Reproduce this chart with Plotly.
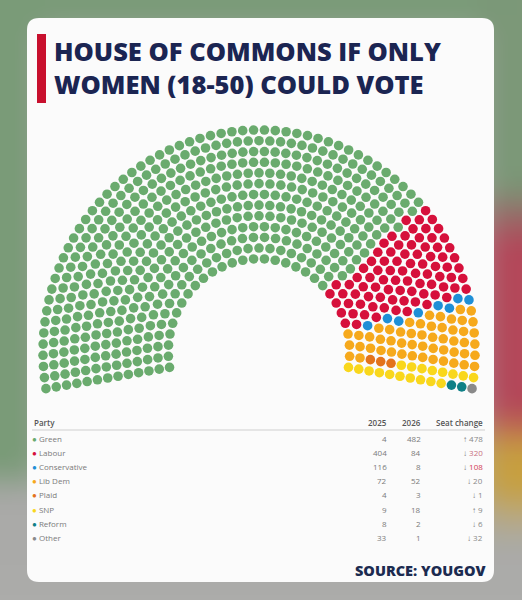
import base64, struct, zlib
import numpy as np
import plotly.graph_objects as go

# ---------------- data ----------------
parties = ["Green", "Labour", "Conservative", "Lib Dem", "Plaid", "SNP", "Reform", "Other"]
seats_2025 = [4, 404, 116, 72, 4, 9, 8, 33]
seats_2026 = [482, 84, 8, 52, 3, 18, 2, 1]
party_colors = ["#6aab6e", "#d6103b", "#1f8fd6", "#f6a91c", "#e3731c", "#f9d71c", "#0f8087", "#8a8a8a"]
change_colors = ["#888888", "#c8707f", "#d23c55", "#888888", "#888888", "#888888", "#888888", "#888888"]
title_lines = ["HOUSE OF COMMONS IF ONLY", "WOMEN (18-50) COULD VOTE"]
col_headers = ["Party", "2025", "2026", "Seat change"]
source_text = "SOURCE: YOUGOV"

W, H = 522, 600

# ---------------- background (blurred photo edges) ----------------
def png_uri(arr):
    h, w, _ = arr.shape
    raw = b"".join(b"\x00" + arr[i].tobytes() for i in range(h))
    def chunk(t, d):
        c = struct.pack(">I", len(d)) + t + d
        return c + struct.pack(">I", zlib.crc32(t + d) & 0xFFFFFFFF)
    png = b"\x89PNG\r\n\x1a\n" + chunk(b"IHDR", struct.pack(">IIBBBBB", w, h, 8, 2, 0, 0, 0))
    png += chunk(b"IDAT", zlib.compress(raw)) + chunk(b"IEND", b"")
    return "data:image/png;base64," + base64.b64encode(png).decode()

gh, gw = 60, 52  # 10px cells
bg = np.zeros((gh, gw, 3), float)
bg[:] = (170, 170, 168)
green = (122, 155, 120)
bg[:48, :4] = green
bg[:3, :] = green
bg[:20, 48:] = (124, 152, 120)
bg[20:23, 48:] = (150, 110, 105)
bg[23:42, 48:] = (180, 72, 90)
bg[42:44, 48:] = (192, 120, 80)
bg[44:50, 48:] = (200, 160, 64)
bg[50:53, 48:] = (185, 170, 130)
bg[56:, :] = (172, 172, 170)
for _ in range(3):
    p = np.pad(bg, ((1, 1), (1, 1), (0, 0)), mode="edge")
    bg = sum(p[i:i + gh, j:j + gw] for i in range(3) for j in range(3)) / 9
bg_uri = png_uri(np.clip(bg, 0, 255).astype(np.uint8))

# ---------------- hemicycle geometry ----------------
sx, sy = 216.0, 222.0     # px per unit radius (horizontal / vertical)
cx_px, cy_px = 259.0, 352.0
n_rows = 13
r_inner = 0.42
theta_start, theta_end = np.deg2rad(189.5), np.deg2rad(-9.5)

total = sum(seats_2026)
radii = np.linspace(r_inner, 1.0, n_rows)
raw = total * radii / radii.sum()
per_row = np.floor(raw).astype(int)
rem = total - per_row.sum()
for k in np.argsort(-(raw - per_row))[:rem]:
    per_row[k] += 1

seat_list = []
for r, n in zip(radii, per_row):
    for t in np.linspace(theta_start, theta_end, n):
        seat_list.append((round(float(t), 9), float(r)))
seat_list.sort(key=lambda s: (-s[0], s[1]))

fig = go.Figure()
idx = 0
for name, cnt, col in zip(parties, seats_2026, party_colors):
    pts = seat_list[idx:idx + cnt]
    idx += cnt
    xs = [r * np.cos(t) for t, r in pts]
    ys = [r * np.sin(t) for t, r in pts]
    fig.add_trace(go.Scatter(x=xs, y=ys, mode="markers", name=name,
                             marker=dict(size=9.6, color=col, line=dict(width=0)),
                             hoverinfo="name", showlegend=False))

def px(x):
    return x / W

def py(y):
    return 1 - y / H

# ---------------- card ----------------
x0, x1, y0, y1, rad = 27, 494, 18, 582, 12
rx, ry = rad / W, rad / H
X0, X1, Y0, Y1 = px(x0), px(x1), py(y0), py(y1)
card_path = (f"M {X0+rx},{Y0} L {X1-rx},{Y0} Q {X1},{Y0} {X1},{Y0-ry} "
             f"L {X1},{Y1+ry} Q {X1},{Y1} {X1-rx},{Y1} L {X0+rx},{Y1} "
             f"Q {X0},{Y1} {X0},{Y1+ry} L {X0},{Y0-ry} Q {X0},{Y0} {X0+rx},{Y0} Z")
shapes = [
    dict(type="path", xref="paper", yref="paper", path=card_path,
         fillcolor="#fbfbfb", line=dict(width=0), layer="below"),
    dict(type="rect", xref="paper", yref="paper", x0=px(37), x1=px(46), y0=py(34), y1=py(103),
         fillcolor="#c8102e", line=dict(width=0)),
    dict(type="line", xref="paper", yref="paper", x0=px(32), x1=px(485), y0=py(430), y1=py(430),
         line=dict(color="#cfcfcf", width=1.2)),
]

annotations = []
title_font = dict(family="Open Sans", size=25.5, color="#1b2552", weight=800)
annotations.append(dict(text="<br>".join(title_lines), x=px(52), y=py(68), xref="paper", yref="paper",
                        xanchor="left", yanchor="middle", align="left", showarrow=False, font=title_font))

hdr_font = dict(family="Open Sans", size=8, color="#555555", weight=600)
hdr_pos = [(32, "left"), (389, "right"), (423, "right"), (485, "right")]
for txt, (hx, anc) in zip(col_headers, hdr_pos):
    annotations.append(dict(text=txt, x=px(hx), y=py(422), xref="paper", yref="paper",
                            xanchor=anc, yanchor="middle", showarrow=False, font=hdr_font))

row_font = dict(family="Open Sans", size=8, color="#7a7a7a")
for i, (name, a, b, col, ccol) in enumerate(zip(parties, seats_2025, seats_2026, party_colors, change_colors)):
    yy = py(438.5 + i * 14.1)
    diff = b - a
    arrow = "↑" if diff > 0 else "↓"
    annotations.append(dict(text=f"<span style='color:{col}'>●</span> {name}", x=px(30), y=yy,
                            xref="paper", yref="paper", xanchor="left", yanchor="middle",
                            showarrow=False, font=row_font))
    annotations.append(dict(text=str(a), x=px(389), y=yy, xref="paper", yref="paper",
                            xanchor="right", yanchor="middle", showarrow=False, font=row_font))
    annotations.append(dict(text=str(b), x=px(423), y=yy, xref="paper", yref="paper",
                            xanchor="right", yanchor="middle", showarrow=False, font=row_font))
    annotations.append(dict(text=f"<span style='color:#777'>{arrow}</span> {abs(diff)}", x=px(485), y=yy,
                            xref="paper", yref="paper", xanchor="right", yanchor="middle",
                            showarrow=False, font=dict(family="Open Sans", size=8, color=ccol)))

annotations.append(dict(text=source_text, x=px(488), y=py(570), xref="paper", yref="paper",
                        xanchor="right", yanchor="middle", showarrow=False,
                        font=dict(family="Open Sans", size=14.5, color="#1c2b50", weight=800)))

fig.update_layout(
    width=W, height=H,
    margin=dict(l=0, r=0, t=0, b=0),
    paper_bgcolor="#aaaaa8", plot_bgcolor="rgba(0,0,0,0)",
    xaxis=dict(range=[-cx_px / sx, (W - cx_px) / sx], domain=[0, 1], visible=False, fixedrange=True),
    yaxis=dict(range=[-(H - cy_px) / sy, cy_px / sy], domain=[0, 1], visible=False, fixedrange=True),
    shapes=shapes,
    annotations=annotations,
    images=[dict(source=bg_uri, xref="paper", yref="paper", x=0, y=1, sizex=1, sizey=1,
                 sizing="stretch", layer="below", xanchor="left", yanchor="top")],
    showlegend=False,
)

fig.write_html("out.html", config={"displayModeBar": False},
               post_script="document.body.style.margin='0px';document.body.style.overflow='hidden';")
